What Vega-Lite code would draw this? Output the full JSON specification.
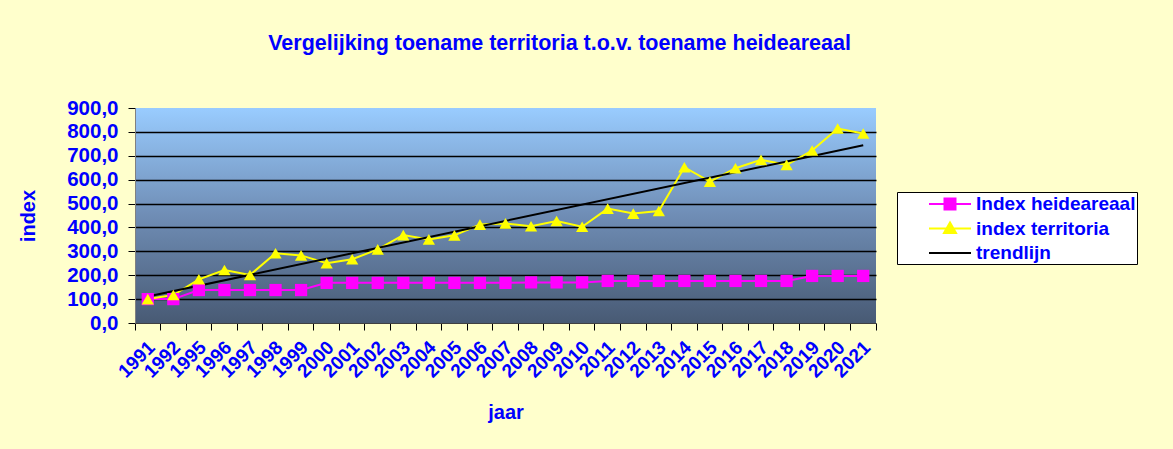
{
  "$schema": "https://vega.github.io/schema/vega-lite/v6.json",
  "autosize": "none",
  "width": 741,
  "height": 215,
  "padding": {"left": 135, "top": 108, "right": 297, "bottom": 126},
  "background": "#FFFFCC",
  "title": {
    "text": "Vergelijking  toename territoria t.o.v. toename heideareaal",
    "font": "Liberation Sans",
    "fontSize": 21.5,
    "fontWeight": "bold",
    "color": "#0000FF",
    "anchor": "middle",
    "frame": "group",
    "dx": 54,
    "offset": 44
  },
  "config": {
    "view": {
      "stroke": null,
      "fill": {
        "gradient": "linear",
        "x1": 0, "y1": 0, "x2": 0, "y2": 1,
        "stops": [
          {"offset": 0, "color": "#99CCFF"},
          {"offset": 0.5, "color": "#6F8DB5"},
          {"offset": 1, "color": "#485A74"}
        ]
      }
    },
    "axis": {
      "labelFont": "Liberation Sans",
      "labelFontWeight": "bold",
      "labelColor": "#0000FF",
      "titleFont": "Liberation Sans",
      "titleFontWeight": "bold",
      "titleColor": "#0000FF",
      "tickColor": "#000000",
      "domainColor": "#808080",
      "tickSize": 7
    },
    "legend": {
      "labelFont": "Liberation Sans",
      "labelFontWeight": "bold",
      "labelColor": "#0000FF"
    }
  },
  "data": {
    "values": [
      {"jaar": "1991", "serie": "Index heideareaal", "waarde": 100},
      {"jaar": "1992", "serie": "Index heideareaal", "waarde": 100},
      {"jaar": "1995", "serie": "Index heideareaal", "waarde": 138},
      {"jaar": "1996", "serie": "Index heideareaal", "waarde": 138},
      {"jaar": "1997", "serie": "Index heideareaal", "waarde": 138},
      {"jaar": "1998", "serie": "Index heideareaal", "waarde": 138},
      {"jaar": "1999", "serie": "Index heideareaal", "waarde": 138},
      {"jaar": "2000", "serie": "Index heideareaal", "waarde": 168},
      {"jaar": "2001", "serie": "Index heideareaal", "waarde": 168},
      {"jaar": "2002", "serie": "Index heideareaal", "waarde": 168},
      {"jaar": "2003", "serie": "Index heideareaal", "waarde": 168},
      {"jaar": "2004", "serie": "Index heideareaal", "waarde": 168},
      {"jaar": "2005", "serie": "Index heideareaal", "waarde": 168},
      {"jaar": "2006", "serie": "Index heideareaal", "waarde": 168},
      {"jaar": "2007", "serie": "Index heideareaal", "waarde": 168},
      {"jaar": "2008", "serie": "Index heideareaal", "waarde": 170},
      {"jaar": "2009", "serie": "Index heideareaal", "waarde": 170},
      {"jaar": "2010", "serie": "Index heideareaal", "waarde": 170},
      {"jaar": "2011", "serie": "Index heideareaal", "waarde": 176},
      {"jaar": "2012", "serie": "Index heideareaal", "waarde": 176},
      {"jaar": "2013", "serie": "Index heideareaal", "waarde": 176},
      {"jaar": "2014", "serie": "Index heideareaal", "waarde": 176},
      {"jaar": "2015", "serie": "Index heideareaal", "waarde": 176},
      {"jaar": "2016", "serie": "Index heideareaal", "waarde": 176},
      {"jaar": "2017", "serie": "Index heideareaal", "waarde": 176},
      {"jaar": "2018", "serie": "Index heideareaal", "waarde": 176},
      {"jaar": "2019", "serie": "Index heideareaal", "waarde": 197},
      {"jaar": "2020", "serie": "Index heideareaal", "waarde": 197},
      {"jaar": "2021", "serie": "Index heideareaal", "waarde": 197},
      {"jaar": "1991", "serie": "index territoria", "waarde": 100},
      {"jaar": "1992", "serie": "index territoria", "waarde": 117},
      {"jaar": "1995", "serie": "index territoria", "waarde": 183},
      {"jaar": "1996", "serie": "index territoria", "waarde": 222},
      {"jaar": "1997", "serie": "index territoria", "waarde": 201},
      {"jaar": "1998", "serie": "index territoria", "waarde": 292},
      {"jaar": "1999", "serie": "index territoria", "waarde": 283},
      {"jaar": "2000", "serie": "index territoria", "waarde": 250},
      {"jaar": "2001", "serie": "index territoria", "waarde": 267},
      {"jaar": "2002", "serie": "index territoria", "waarde": 308},
      {"jaar": "2003", "serie": "index territoria", "waarde": 368},
      {"jaar": "2004", "serie": "index territoria", "waarde": 350},
      {"jaar": "2005", "serie": "index territoria", "waarde": 367},
      {"jaar": "2006", "serie": "index territoria", "waarde": 412},
      {"jaar": "2007", "serie": "index territoria", "waarde": 417},
      {"jaar": "2008", "serie": "index territoria", "waarde": 405},
      {"jaar": "2009", "serie": "index territoria", "waarde": 427},
      {"jaar": "2010", "serie": "index territoria", "waarde": 403},
      {"jaar": "2011", "serie": "index territoria", "waarde": 479},
      {"jaar": "2012", "serie": "index territoria", "waarde": 458},
      {"jaar": "2013", "serie": "index territoria", "waarde": 469},
      {"jaar": "2014", "serie": "index territoria", "waarde": 652},
      {"jaar": "2015", "serie": "index territoria", "waarde": 592},
      {"jaar": "2016", "serie": "index territoria", "waarde": 648},
      {"jaar": "2017", "serie": "index territoria", "waarde": 683},
      {"jaar": "2018", "serie": "index territoria", "waarde": 662},
      {"jaar": "2019", "serie": "index territoria", "waarde": 722},
      {"jaar": "2020", "serie": "index territoria", "waarde": 814},
      {"jaar": "2021", "serie": "index territoria", "waarde": 793},
      {"jaar": "1991", "serie": "trendlijn", "waarde": 111},
      {"jaar": "2021", "serie": "trendlijn", "waarde": 744}
    ]
  },
  "encoding": {
    "x": {
      "field": "jaar",
      "type": "ordinal",
      "scale": {"type": "band", "paddingInner": 0, "paddingOuter": 0},
      "axis": {
        "title": "jaar",
        "titleFontSize": 20,
        "titlePadding": 22,
        "labelFontSize": 19,
        "labelAngle": -45,
        "labelAlign": "right",
        "labelBaseline": "middle",
        "labelPadding": 14,
        "labelOffset": 4,
        "bandPosition": 1,
        "tickExtra": true,
        "domainColor": "#404040",
        "grid": false
      }
    },
    "y": {
      "field": "waarde",
      "type": "quantitative",
      "scale": {"domain": [0, 900], "nice": false},
      "axis": {
        "title": "index",
        "titleFontSize": 20,
        "titlePadding": 28,
        "labelFontSize": 20.5,
        "labelPadding": 10,
        "values": [0, 100, 200, 300, 400, 500, 600, 700, 800, 900],
        "labelExpr": "replace(format(datum.value, '.1f'), '.', ',')",
        "grid": true,
        "gridColor": "#000000",
        "gridWidth": 1.5,
        "gridOpacity": {"condition": {"test": "datum.value == 0 || datum.value == 900", "value": 0}, "value": 1}
      }
    },
    "color": {
      "field": "serie",
      "type": "nominal",
      "scale": {
        "domain": ["Index heideareaal", "index territoria", "trendlijn"],
        "range": ["#FF00FF", "#FFFF00", "#000000"]
      },
      "legend": {
        "title": null,
        "orient": "none",
        "legendX": 762,
        "legendY": 84,
        "fillColor": "#FFFFFF",
        "strokeColor": "#000000",
        "padding": 1,
        "rowPadding": 3.5,
        "labelFontSize": 19,
        "labelOffset": 15,
        "symbolOffset": 41,
        "symbolSize": 400,
        "symbolStrokeWidth": 2,
        "encode": {
          "symbols": {
            "update": {
              "shape": {"signal": "datum.value === 'Index heideareaal' ? 'M-2.1,0H2.1M-0.55,-0.55H0.55V0.55H-0.55Z' : datum.value === 'index territoria' ? 'M-2.1,0H2.1M0,-0.6L0.6,0.45H-0.6Z' : 'M-2.1,0H2.1'"},
              "fill": {"signal": "datum.value === 'trendlijn' ? 'transparent' : scale('color', datum.value)"},
              "stroke": {"signal": "scale('color', datum.value)"},
              "strokeWidth": {"value": 2}
            }
          }
        }
      }
    }
  },
  "layer": [
    {
      "mark": {"type": "line", "strokeWidth": 2}
    },
    {
      "transform": [{"filter": "datum.serie !== 'trendlijn'"}],
      "mark": {"type": "point", "filled": true, "size": 150, "opacity": 1},
      "encoding": {
        "shape": {
          "field": "serie",
          "type": "nominal",
          "scale": {"domain": ["Index heideareaal", "index territoria"], "range": ["square", "triangle-up"]},
          "legend": null
        }
      }
    }
  ]
}
